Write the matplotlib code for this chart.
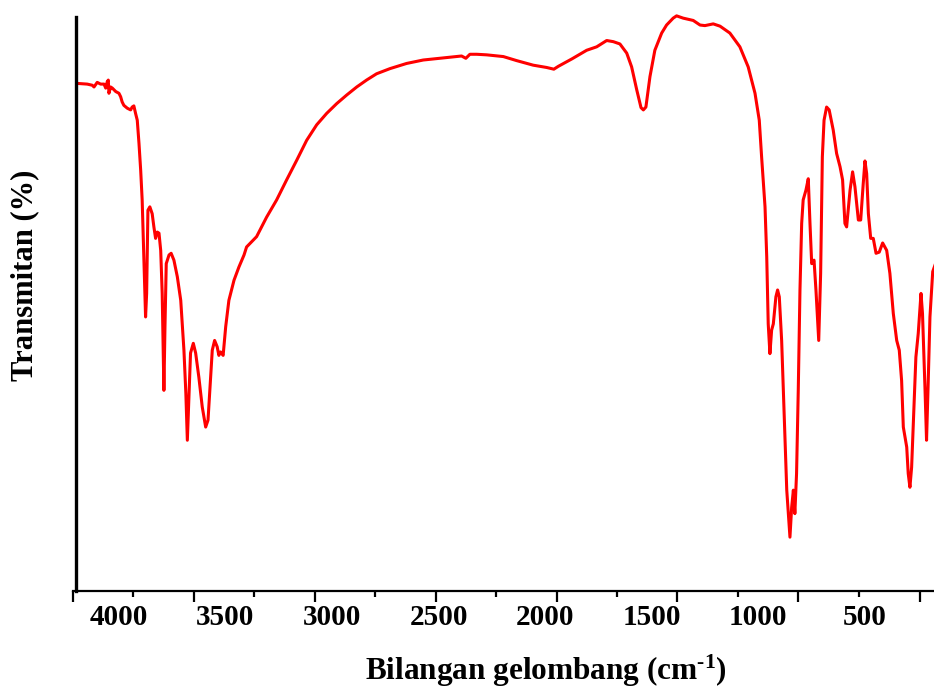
import matplotlib
matplotlib.use("Agg")
import matplotlib.pyplot as plt

# FTIR spectrum (wavenumber cm^-1, transmittance %)
wavenumber = [4188, 4149, 4125, 4117, 4102, 4086, 4070, 4062, 4055, 4050, 4047, 4039, 4031, 4015,
              4000, 3992, 3985, 3977, 3961, 3945, 3938, 3930, 3922, 3914, 3906, 3898, 3891, 3883,
              3875, 3870, 3864, 3855, 3844, 3836, 3828, 3820, 3812, 3804, 3797, 3789, 3784, 3778,
              3765, 3755, 3742, 3726, 3710, 3695, 3686, 3679, 3671, 3664, 3651, 3640, 3625, 3609,
              3593, 3582, 3570, 3562, 3551, 3539, 3531, 3523, 3511, 3499, 3484, 3460, 3437, 3413,
              3401, 3354, 3307, 3260, 3213, 3166, 3119, 3072, 3025, 2978, 2931, 2884, 2838, 2791,
              2728, 2650, 2572, 2494, 2415, 2392, 2372, 2353, 2321, 2274, 2196, 2134, 2056, 1993,
              1959, 1938, 1874, 1805, 1758, 1711, 1680, 1649, 1617, 1594, 1570, 1550, 1539, 1527,
              1508, 1485, 1453, 1430, 1399, 1383, 1352, 1305, 1273, 1250, 1211, 1179, 1133, 1086,
              1047, 1015, 995, 984, 968, 960, 953, 945, 937, 929, 917, 909, 901, 890, 882, 874,
              866, 851, 843, 835, 828, 820, 812, 804, 796, 789, 776, 765, 757, 749, 738, 729,
              716, 707, 699, 691, 679, 667, 648, 632, 616, 604, 593, 585, 569, 557, 546, 530,
              519, 507, 499, 491, 483, 472, 460, 447, 432, 416, 397, 382, 366, 350, 338, 327,
              319, 303, 296, 288, 280, 269, 260, 249, 236, 229, 217, 210, 202, 194, 181, 166]
transmittance = [88.4, 88.3, 88.1, 87.8, 88.6, 88.3, 88.3, 87.6, 88.7, 89.0, 86.7, 87.8, 87.6, 87.0,
                 86.7, 86.1, 85.2, 84.6, 84.1, 83.8, 84.3, 84.5, 83.2, 82.0, 78.0, 73.3, 68.1, 57.6,
                 47.7, 51.8, 66.3, 66.9, 65.7, 63.4, 61.4, 62.5, 62.3, 59.3, 51.8, 34.9, 46.0, 57.0,
                 58.5, 58.8, 57.6, 54.7, 50.6, 41.9, 34.4, 26.2, 34.4, 41.4, 43.1, 41.4, 37.2, 32.0,
                 28.5, 29.7, 37.2, 41.9, 43.6, 42.5, 41.0, 41.6, 41.0, 46.0, 50.6, 54.1, 56.4, 58.5,
                 59.9, 61.7, 65.1, 68.1, 71.6, 75.0, 78.5, 81.2, 83.2, 84.9, 86.4, 87.8, 89.0, 90.1,
                 91.0, 91.9, 92.5, 92.8, 93.1, 93.2, 92.8, 93.5, 93.5, 93.4, 93.1, 92.4, 91.6, 91.2,
                 90.9, 91.4, 92.7, 94.2, 94.8, 95.9, 95.7, 95.3, 93.7, 91.3, 87.3, 84.2, 83.8, 84.3,
                 89.6, 94.2, 97.2, 98.6, 99.8, 100.2, 99.8, 99.4, 98.6, 98.5, 98.8, 98.4, 97.2, 94.8,
                 91.3, 86.7, 82.0, 75.6, 66.9, 58.2, 46.5, 41.3, 45.4, 46.5, 51.2, 52.4, 51.2, 43.6, 34.9, 26.2,
                 17.5, 9.3, 14.5, 17.5, 13.4, 20.4, 34.9, 52.4, 64.0, 68.1, 69.8, 71.8, 64.0, 57.0, 57.6, 52.4,
                 43.6, 55.3, 75.6, 82.0, 84.3, 83.8, 80.3, 76.2, 73.9, 71.6, 64.0, 63.4, 69.8, 73.0, 70.4, 64.6,
                 64.6, 71.0, 74.9, 72.7, 65.7, 61.4, 61.4, 58.8, 59.0, 60.6, 59.3, 55.3, 48.3, 43.6, 41.9, 36.6,
                 28.5, 25.0, 20.4, 18.0, 21.5, 32.0, 40.7, 44.8, 51.8, 48.3, 34.9, 26.2, 36.6, 47.7, 55.6, 57.2]

tick_marks_major = [4217, 3649, 3082, 2514, 1946, 1379, 811, 243]
tick_marks_minor = [3933, 3365, 2798, 2230, 1662, 1095, 527]
label_ticks = [4000, 3500, 3000, 2500, 2000, 1500, 1000, 500]
label_text = ["4000", "3500", "3000", "2500", "2000", "1500", "1000", "500"]

plt.rcParams['font.family'] = ['Liberation Serif', 'DejaVu Serif']
plt.rcParams['font.weight'] = 'bold'
plt.rcParams['mathtext.fontset'] = 'custom'
plt.rcParams['mathtext.rm'] = 'Liberation Serif:bold'
plt.rcParams['mathtext.bf'] = 'Liberation Serif:bold'
plt.rcParams['mathtext.it'] = 'Liberation Serif:bold'

fig = plt.figure(figsize=(9.34, 6.88), dpi=100)
ax = fig.add_axes([72.7/934, (688-590.5)/688, (934-72.7)/934, 573.5/688])

ax.plot(wavenumber, transmittance, color='#ff0000', lw=2.2, clip_on=False, solid_joinstyle='round')

ax.set_xlim(4217, 175)
ax.set_ylim(0, 100)

for s in ['top', 'right']:
    ax.spines[s].set_visible(False)
ax.spines['left'].set_position(('data', 4203))
ax.spines['left'].set_linewidth(2.4)
ax.spines['bottom'].set_linewidth(1.6)
ax.set_yticks([])

ax.set_xticks(tick_marks_major)
ax.set_xticks(tick_marks_minor, minor=True)
ax.tick_params(axis='x', which='major', direction='out', length=8, width=1.6, labelbottom=False)
ax.tick_params(axis='x', which='minor', direction='out', length=4, width=1.6)

sec = ax.secondary_xaxis('bottom')
sec.set_xticks(label_ticks, labels=label_text)
sec.tick_params(axis='x', length=0, pad=10, labelsize=21)
for lbl in sec.get_xticklabels():
    lbl.set_fontweight('bold')
sec.spines['bottom'].set_visible(False)

ax.set_ylabel('Transmitan (%)', fontsize=22, fontweight='bold')
ax.yaxis.set_label_coords(-0.0385, 0.55)

xl = ax.set_xlabel(r'Bilangan gelombang (cm$^{\text{-}1}$)', fontsize=22.5, fontweight='bold')
xl.set_va('baseline')
ax.xaxis.set_label_coords(0.550, -0.156)

fig.savefig('out.png', dpi=100)
